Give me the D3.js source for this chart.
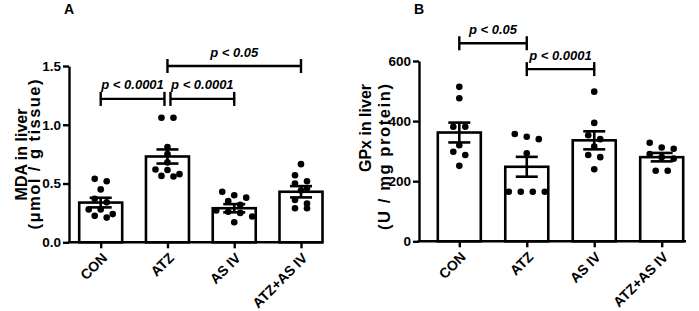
<!DOCTYPE html>
<html>
<head>
<meta charset="utf-8">
<script src="https://cdn.jsdelivr.net/npm/d3@7"></script>
<style>
body { margin: 0; background: #fff; }
text { font-family: "Liberation Sans", Arial, sans-serif; font-weight: bold; fill: #000; }
</style>
</head>
<body>
<svg id="chart" width="699" height="311"></svg>
<script>
// groups on the x axis
var categories = ['CON', 'ATZ', 'AS IV', 'ATZ+AS IV'];

// panel A: MDA in liver (umol / g tissue)
var mdaMean = [0.338, 0.73, 0.29, 0.43];
var mdaSem = [0.041, 0.06, 0.035, 0.048];
var mdaPoints = [
    [0.54, 0.52, 0.45, 0.37, 0.34, 0.28, 0.28, 0.24, 0.225, 0.21],
    [1.06, 1.06, 0.81, 0.75, 0.68, 0.62, 0.615, 0.58, 0.565, 0.56],
    [0.43, 0.40, 0.38, 0.35, 0.32, 0.27, 0.26, 0.25, 0.22, 0.17],
    [0.665, 0.57, 0.52, 0.50, 0.46, 0.44, 0.36, 0.33, 0.29, 0.29]
];
var mdaTicks = [0, 0.5, 1.0, 1.5];
var mdaTickLabels = ['0.0', '0.5', '1.0', '1.5'];
var mdaSig = [
    {from: 'CON', to: 'ATZ', label: 'p < 0.0001', level: 1.22},
    {from: 'ATZ', to: 'AS IV', label: 'p < 0.0001', level: 1.22},
    {from: 'ATZ', to: 'ATZ+AS IV', label: 'p < 0.05', level: 1.5}
];

// panel B: GPx in liver (U / mg protein)
var gpxMean = [362, 248, 336, 280];
var gpxSem = [33, 33, 30, 14];
var gpxPoints = [
    [514, 476, 381, 381, 320, 298, 287, 251],
    [357, 348, 340, 293, 165, 165, 165, 165],
    [498, 394, 353, 340, 315, 287, 280, 240],
    [328, 312, 308, 290, 280, 275, 235, 235]
];
var gpxTicks = [0, 200, 400, 600];
var gpxTickLabels = ['0', '200', '400', '600'];
var gpxSig = [
    {from: 'CON', to: 'ATZ', label: 'p < 0.05', level: 659},
    {from: 'ATZ', to: 'AS IV', label: 'p < 0.0001', level: 573}
];

var svg = d3.select('#chart');
svg.append('rect').attr('width', 699).attr('height', 311).attr('fill', '#fff');

// spread dots that sit at almost the same height side by side (scatter dot plot)
function swarm(values, y, spacing, diam) {
    var order = values.map(function(v, i) { return i; })
        .sort(function(a, b) { return values[b] - values[a]; });
    var rows = [], cur = null;
    order.forEach(function(i) {
        var py = y(values[i]);
        if (!cur || py - cur.y0 > diam) {
            cur = {y0: py, items: []};
            rows.push(cur);
        }
        cur.items.push(i);
    });
    var off = [];
    rows.forEach(function(r) {
        r.items.forEach(function(i, k) {
            off[i] = (k - (r.items.length - 1) / 2) * spacing;
        });
    });
    return off;
}

function drawPanel(cfg) {
    var g = svg.append('g');
    var y = d3.scaleLinear().domain([0, cfg.max]).range([cfg.bottom, cfg.top]);
    var x = d3.scalePoint().domain(categories).range([cfg.first, cfg.last]);
    var barW = 43;

    // bars
    g.selectAll('.bar')
        .data(cfg.mean)
        .enter().append('rect')
        .attr('class', 'bar')
        .attr('x', function(d, i) { return x(categories[i]) - barW / 2; })
        .attr('y', function(d) { return y(d); })
        .attr('width', barW)
        .attr('height', function(d) { return cfg.bottom - y(d); })
        .attr('fill', '#fff')
        .attr('stroke', '#000')
        .attr('stroke-width', 2.6);

    // individual values
    cfg.points.forEach(function(vals, i) {
        var off = swarm(vals, y, 12, 6.2);
        g.selectAll('.dot' + i)
            .data(vals)
            .enter().append('circle')
            .attr('cx', function(d, k) { return x(categories[i]) + off[k]; })
            .attr('cy', function(d) { return y(d); })
            .attr('r', 3.3)
            .attr('fill', '#000');
    });

    // mean +/- SEM
    var err = g.selectAll('.err')
        .data(cfg.mean)
        .enter().append('g')
        .attr('stroke', '#000')
        .attr('stroke-width', 2.6);
    err.append('line')
        .attr('x1', function(d, i) { return x(categories[i]); })
        .attr('x2', function(d, i) { return x(categories[i]); })
        .attr('y1', function(d, i) { return y(d - cfg.sem[i]); })
        .attr('y2', function(d, i) { return y(d + cfg.sem[i]); });
    [-1, 1].forEach(function(s) {
        err.append('line')
            .attr('x1', function(d, i) { return x(categories[i]) - 11; })
            .attr('x2', function(d, i) { return x(categories[i]) + 11; })
            .attr('y1', function(d, i) { return y(d + s * cfg.sem[i]); })
            .attr('y2', function(d, i) { return y(d + s * cfg.sem[i]); });
    });

    // y axis
    var yAxis = g.append('g')
        .attr('transform', 'translate(' + cfg.left + ',0)')
        .call(d3.axisLeft(y).tickValues(cfg.ticks).tickSize(6).tickSizeOuter(0).tickPadding(2)
            .tickFormat(function(d, i) { return cfg.tickLabels[i]; }));
    yAxis.select('.domain').attr('stroke-width', 2.4);
    yAxis.selectAll('.tick line').attr('stroke-width', 2.4);
    yAxis.selectAll('.tick text').style('font-size', '13.5px').style('font-family', null);

    // x axis
    var xAxis = g.append('g')
        .attr('transform', 'translate(0,' + cfg.bottom + ')')
        .call(d3.axisBottom(x).tickSize(6).tickSizeOuter(0).tickFormat(''));
    xAxis.select('.domain').remove();
    xAxis.selectAll('.tick line').attr('stroke-width', 2.4);
    xAxis.append('line')
        .attr('x1', cfg.left - 1.2).attr('x2', cfg.right)
        .attr('stroke', '#000').attr('stroke-width', 2.4);
    g.selectAll('.xlab')
        .data(categories)
        .enter().append('text')
        .attr('transform', function(d) {
            return 'translate(' + (x(d) + 4) + ',' + (cfg.bottom + 13) + ') rotate(-45)';
        })
        .attr('text-anchor', 'end')
        .attr('dy', '0.35em')
        .style('font-size', '14px')
        .text(function(d) { return d; });

    // y title (two lines)
    g.append('text')
        .attr('transform', 'translate(' + cfg.titleX1 + ',' + cfg.titleY1 + ') rotate(-90)')
        .attr('text-anchor', 'middle')
        .style('font-size', '16px')
        .text(cfg.title1);
    g.append('text')
        .attr('transform', 'translate(' + cfg.titleX2 + ',' + cfg.titleY2 + ') rotate(-90)')
        .attr('text-anchor', 'middle')
        .attr('textLength', cfg.titleLen2)
        .attr('lengthAdjust', 'spacing')
        .style('font-size', '16.5px')
        .text(cfg.title2);

    // panel letter
    g.append('text')
        .attr('x', cfg.left - 5)
        .attr('y', 14)
        .style('font-size', '14px')
        .text(cfg.letter);

    // significance brackets
    cfg.sig.forEach(function(s, i) {
        var x1 = x(s.from), x2 = x(s.to);
        cfg.sig.forEach(function(o, j) {
            if (j === i || o.level !== s.level) return;
            if (o.to === s.from) x1 += 3;
            if (o.from === s.to) x2 -= 3;
        });
        var ly = y(s.level);
        var br = g.append('g').attr('stroke', '#000').attr('stroke-width', 2.4);
        br.append('line').attr('x1', x1).attr('x2', x2).attr('y1', ly).attr('y2', ly);
        br.append('line').attr('x1', x1).attr('x2', x1).attr('y1', ly - 7).attr('y2', ly + 7);
        br.append('line').attr('x1', x2).attr('x2', x2).attr('y1', ly - 7).attr('y2', ly + 7);
        g.append('text')
            .attr('x', (x1 + x2) / 2)
            .attr('y', ly - 9.5)
            .attr('text-anchor', 'middle')
            .style('font-size', '13px')
            .style('font-style', 'italic')
            .text(s.label);
    });
}

drawPanel({
    letter: 'A', left: 69, right: 323, top: 66, bottom: 242.3, first: 100.7, last: 301,
    max: 1.5, mean: mdaMean, sem: mdaSem, points: mdaPoints,
    ticks: mdaTicks, tickLabels: mdaTickLabels, sig: mdaSig,
    title1: 'MDA in liver', title2: '(\u03bcmol / g tissue)',
    titleX1: 27, titleY1: 154.5, titleX2: 40, titleY2: 154.5, titleLen2: 150
});

drawPanel({
    letter: 'B', left: 419, right: 686, top: 61, bottom: 241.3, first: 459.3, last: 661.7,
    max: 600, mean: gpxMean, sem: gpxSem, points: gpxPoints,
    ticks: gpxTicks, tickLabels: gpxTickLabels, sig: gpxSig,
    title1: 'GPx  in liver', title2: '(U / mg protein)',
    titleX1: 371, titleY1: 128, titleX2: 390, titleY2: 157, titleLen2: 146
});
</script>
</body>
</html>
